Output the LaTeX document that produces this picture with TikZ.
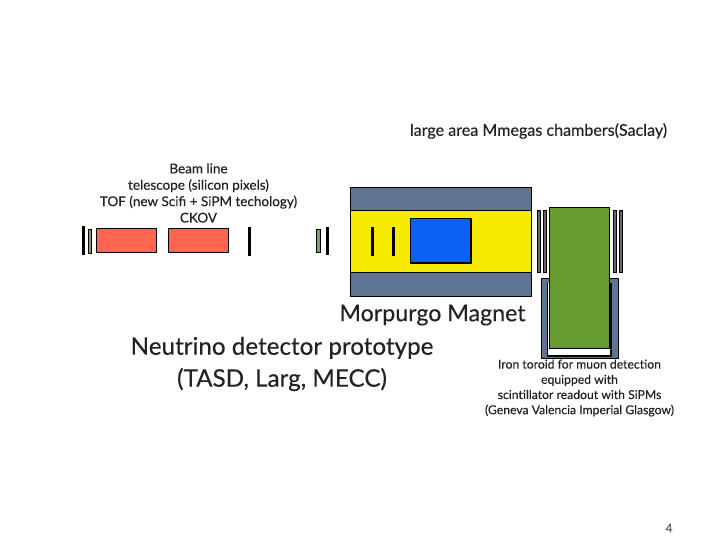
\documentclass[tikz,border=0pt]{standalone}
\usepackage{fontspec}
\setmainfont[FakeBold=0.25]{Lato}
\definecolor{redbox}{HTML}{FF6650}
\definecolor{slate}{HTML}{5F7491}
\definecolor{yel}{HTML}{F7EC00}
\definecolor{blu}{HTML}{0A62F5}
\definecolor{grn}{HTML}{669B32}
\definecolor{lgrn}{HTML}{7F9F70}
\definecolor{txt}{HTML}{222222}
\tikzset{
 box/.style={draw=black,line width=1pt},
 bar/.style={fill=black,draw=none},
 thinbar/.style={fill=gray!80!black,draw=black,line width=.7pt},
 lab/.style={text=txt,align=center,inner sep=0pt},
}
\begin{document}
\begin{tikzpicture}[x=1pt,y=-1pt,every node/.style={lab}]
\useasboundingbox[fill=white] (0,0) rectangle (720,540);
% beam line
\fill[bar] (81.5,226) rectangle (85,255);
\filldraw[fill=lgrn,draw=black,line width=.6pt] (88.5,229) rectangle (91.5,253);
\draw[box,fill=redbox] (96.5,228.5) rectangle (156.5,252);
\draw[box,fill=redbox] (168.5,228.5) rectangle (228.5,252);
\fill[bar] (248,227) rectangle (250.5,256);
\filldraw[fill=lgrn,draw=black,line width=.6pt] (316.5,229) rectangle (320,252);
\fill[bar] (325.5,227) rectangle (328.5,255);
% magnet
\draw[box,fill=slate] (350,187.5) rectangle (531.5,296.5);
\draw[box,fill=yel] (350,211) rectangle (531.5,272);
\fill[bar] (371,227) rectangle (374,256);
\fill[bar] (392,227) rectangle (395,256);
\draw[box,fill=blu,line width=1.3pt] (410.5,218.5) rectangle (471,263);
% toroid
\draw[box,fill=slate] (541.5,278.5) rectangle (618.5,358);
\fill[black] (547,283) rectangle (612,356.5);
\fill[white] (547.5,283) rectangle (610,355);
% chambers
\draw[thinbar] (537.5,210) rectangle (540,272);
\draw[thinbar] (543.5,210) rectangle (546,272);
\draw[thinbar] (613.5,210) rectangle (616,272);
\draw[thinbar] (619.5,210) rectangle (622,272);
\draw[box,fill=grn] (549.5,207.5) rectangle (609.5,348);
% labels
\node (mm) at (538.5,131) {\fontsize{16.1}{18}\selectfont large area Mmegas chambers(Saclay)};
\node (bl) at (198.5,193) [font=\fontsize{13.5}{16.4}\selectfont] {Beam line\\telescope (silicon pixels)\\TOF (new Scifi + SiPM techology)\\CKOV};
\node (mag) at (432.5,315) {\fontsize{23.2}{25}\selectfont Morpurgo Magnet};
\node (nu) at (282,364) [font=\fontsize{24.2}{32}\selectfont] {Neutrino detector prototype\\(TASD, Larg, MECC)};
\node (ir) at (579.5,388) [font=\fontsize{12.2}{15.2}\selectfont] {Iron toroid for muon detection\\equipped with\\scintillator readout with SiPMs\\(Geneva Valencia Imperial Glasgow)};
\node (pg) at (669,528) {\fontsize{12}{14}\selectfont\color{gray!80!black}4};
\end{tikzpicture}
\end{document}
